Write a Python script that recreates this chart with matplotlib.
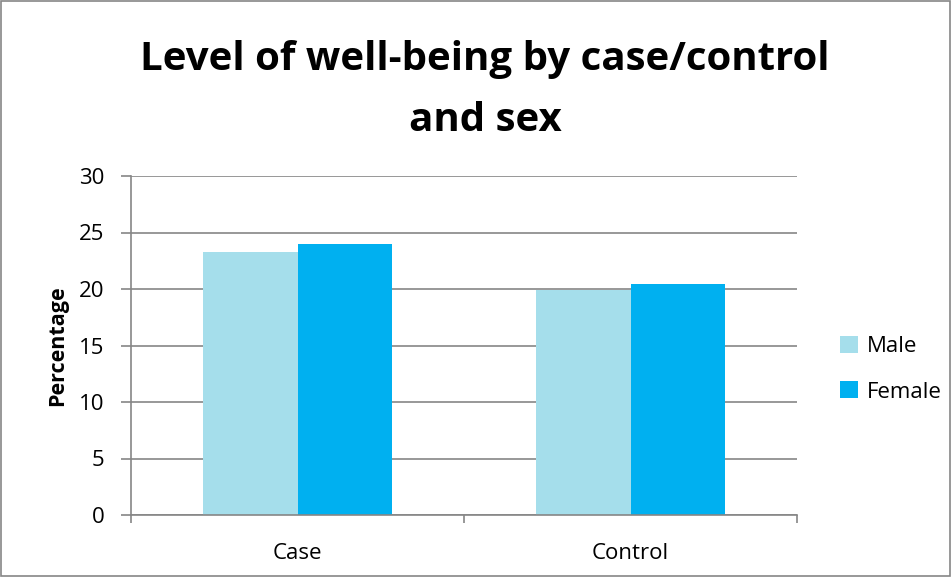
import numpy as np
import matplotlib.pyplot as plt
from matplotlib.patches import Rectangle

categories = ['Case', 'Control']
male = [23.3, 19.9]
female = [24.0, 20.4]
series = ['Male', 'Female']
colors = ['#A5DEEB', '#00B0F0']

plt.rcParams['font.family'] = ['Open Sans', 'DejaVu Sans']

fig = plt.figure(figsize=(9.52, 5.77), dpi=100)
# outer border like the spreadsheet chart area
fig.patches.append(Rectangle((0.001, 0.002), 0.997, 0.996, transform=fig.transFigure,
                             fill=False, edgecolor='#868686', linewidth=1.2))

ax = fig.add_axes([131/952, (577-515)/577, (797-131)/952, (515-176)/577])
x = np.arange(len(categories))
w = 0.285
ax.bar(x - w/2, male, w, color=colors[0], label=series[0], zorder=2)
ax.bar(x + w/2, female, w, color=colors[1], label=series[1], zorder=2)

ax.set_xlim(-0.5, 1.5)
ax.set_ylim(0, 30)
ax.set_yticks(range(0, 31, 5))
ax.yaxis.grid(True, color='#868686', linewidth=1.2, zorder=0)
ax.set_xticks(x)
ax.set_xticklabels(categories, fontsize=16)
ax.set_xticks([-0.5, 0.5, 1.5], minor=True)
ax.tick_params(axis='x', which='major', length=0, pad=20)
ax.tick_params(axis='x', which='minor', length=6, color='#868686', width=1.2)
ax.tick_params(axis='y', length=7, color='#868686', width=1.2, labelsize=16, pad=12)
for s in ['top', 'right']:
    ax.spines[s].set_visible(False)
for s in ['left', 'bottom']:
    ax.spines[s].set_color('#868686')
    ax.spines[s].set_linewidth(1.2)
ax.set_ylabel('Percentage', fontsize=15.5, fontweight='bold', labelpad=8)

fig.text(485/952, 1 - 90/577, 'Level of well-being by case/control\nand sex', ha='center', va='center',
         fontsize=29, fontweight='bold', linespacing=1.75)

ax.legend(loc='center left', bbox_to_anchor=(1.035, 0.43), frameon=False, fontsize=16,
          handlelength=0.8, handleheight=0.8, labelspacing=1.1, handletextpad=0.4)

fig.savefig('out.png', dpi=100)
